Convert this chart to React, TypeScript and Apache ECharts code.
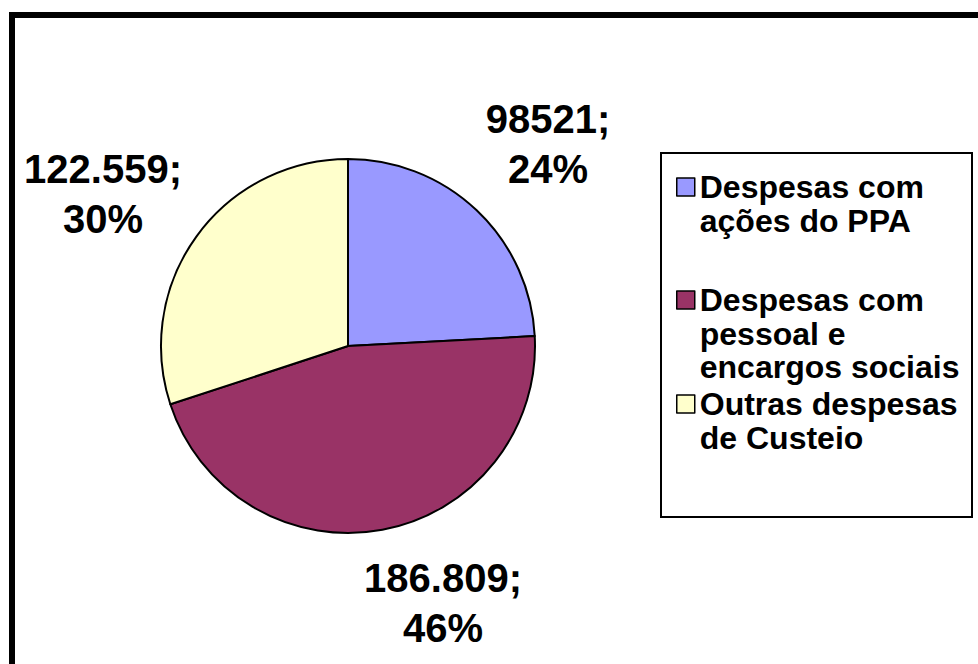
import React, { useEffect, useRef } from "react";
import * as echarts from "echarts";

const categories = [
  "Despesas com ações do PPA",
  "Despesas com pessoal e encargos sociais",
  "Outras despesas de Custeio",
];
const legendLines = [
  "Despesas com\nações do PPA",
  "Despesas com\npessoal e\nencargos sociais",
  "Outras despesas\nde Custeio",
];
const values = [98521, 186809, 122559];
const valueLabels = ["98521", "186.809", "122.559"];
const colors = ["#9999FF", "#993366", "#FFFFCC"];

const labelPos = [
  [548, 144],
  [443, 603],
  [103, 194],
];
const legendFirstLine = [187, 300, 404];
const LEG_LH = 33.5;
const LEG_FS = 32;

export default function App() {
  const ref = useRef<HTMLDivElement>(null);
  useEffect(() => {
    if (!ref.current) return;
    const chart = echarts.init(ref.current, null, { renderer: "svg" });
    const legends = categories.map((name, i) => {
      const real = legendLines[i].split("\n");
      const n = real.length;
      const blanks = new Array(n - 1).fill(" ");
      const text = blanks.concat(real).join("\n");
      const total = 2 * n - 1;
      return {
        show: true,
        data: [name],
        orient: "vertical",
        left: 676,
        top: legendFirstLine[i] - (total * LEG_LH) / 2,
        padding: 0,
        selectedMode: false,
        icon: "rect",
        itemWidth: 18,
        itemHeight: 18,
        itemStyle: { borderColor: "#000", borderWidth: 1.5 },
        formatter: () => text,
        textStyle: {
          fontFamily: "Liberation Sans, Arial, sans-serif",
          fontWeight: "bold",
          fontSize: LEG_FS,
          lineHeight: LEG_LH,
          color: "#000",
        },
        itemGap: 0,
      };
    });
    chart.setOption({
      animation: false,
      backgroundColor: "#fff",
      color: colors,
      legend: legends,
      graphic: [
        {
          type: "rect",
          shape: { x: 12, y: 15, width: 1000, height: 700 },
          style: { fill: "none", stroke: "#000", lineWidth: 6 },
          silent: true,
        },
        {
          type: "rect",
          shape: { x: 661, y: 153, width: 311, height: 364 },
          style: { fill: "none", stroke: "#000", lineWidth: 2 },
          silent: true,
        },
      ],
      series: [
        {
          type: "pie",
          center: [348, 346],
          radius: 187,
          startAngle: 90,
          clockwise: true,
          itemStyle: { borderColor: "#000", borderWidth: 2 },
          emphasis: { disabled: true },
          labelLine: { show: false },
          label: {
            show: true,
            position: "outside",
            overflow: "none",
            formatter: (p: any) =>
              valueLabels[p.dataIndex] + ";\n" + Math.round(p.percent) + "%",
            fontFamily: "Liberation Sans, Arial, sans-serif",
            fontWeight: "bold",
            fontSize: 40,
            lineHeight: 50,
            color: "#000",
            align: "center",
          },
          labelLayout: (params: any) => ({
            x: labelPos[params.dataIndex][0],
            y: labelPos[params.dataIndex][1],
            align: "center",
            verticalAlign: "middle",
          }),
          data: categories.map((name, i) => ({ name, value: values[i] })),
        },
      ],
    });
    return () => chart.dispose();
  }, []);
  return (
    <div
      ref={ref}
      style={{ position: "absolute", left: 0, top: 0, width: 978, height: 664, background: "#fff" }}
    />
  );
}
